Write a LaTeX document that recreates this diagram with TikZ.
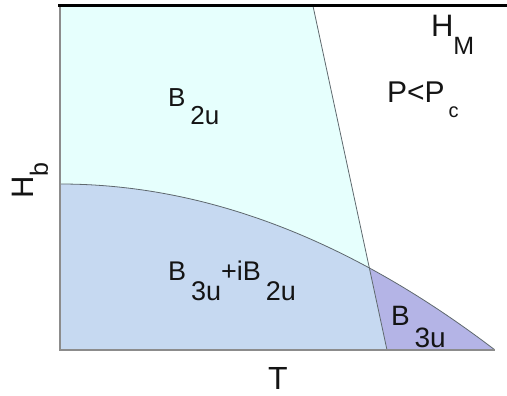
\documentclass[tikz,border=0pt]{standalone}
\usepackage{fontspec}
\setmainfont{Liberation Sans}
\newcommand{\fsz}[1]{\fontsize{#1}{#1}\selectfont}
\definecolor{phcyan}{RGB}{230,255,253}
\definecolor{phblue}{RGB}{198,217,241}
\definecolor{phpurple}{RGB}{180,180,230}
\definecolor{axisgray}{RGB}{140,140,140}
\definecolor{divgray}{RGB}{95,105,110}
\definecolor{txt}{RGB}{20,20,20}
\tikzset{
  lab/.style={inner sep=0pt, outer sep=0pt, anchor=base west, text=txt},
  divider/.style={draw=divgray, line width=0.8pt},
  axisline/.style={draw=axisgray, line width=1.5pt},
}
\begin{document}
\begin{tikzpicture}[x=1pt,y=-1pt]
\useasboundingbox (0,0) rectangle (507,396);
% regions
\fill[phcyan] (60,6) -- (313,6) -- (387,350) -- (60,350) -- cycle;
\fill[phpurple] plot[domain=0:1, samples=80] ({60+435*\x},{350-166*(1-\x*\x)}) -- (60,350) -- cycle;
\begin{scope}
  \clip (60,6) -- (313,6) -- (387,350) -- (60,350) -- cycle;
  \fill[phblue] plot[domain=0:1, samples=80] ({60+435*\x},{350-166*(1-\x*\x)}) -- (60,350) -- cycle;
\end{scope}
% boundaries
\coordinate (dtop) at (313,6);
\coordinate (dbot) at (387,350);
\draw[divider] (dtop) -- (dbot);
\draw[divider] plot[domain=0:1, samples=80] ({60+435*\x},{350-166*(1-\x*\x)});
% axes
\coordinate (origin) at (60,350);
\coordinate (ytop) at (60,6);
\coordinate (xend) at (495,350);
\draw[axisline] (ytop) -- (origin) -- (xend);
\coordinate (hl) at (58,5.5);
\coordinate (hr) at (507,5.5);
\draw[black, line width=3pt] (hl) -- (hr);
% labels
\node[lab] (b2u) at (168,107) {\fsz{26}B\kern5pt\raisebox{-18pt}{2u}};
\node[lab] (hm) at (431,37) {\fsz{31}H{\fsz{25}\raisebox{-18pt}{M}}};
\node[lab] (ppc) at (387,103) {\fsz{30}P<P\kern4pt{\fsz{20}\raisebox{-14pt}{c}}};
\node[lab] (mix) at (168,280) {\fsz{27}B\kern5pt\raisebox{-20pt}{3u}+iB\kern5pt\raisebox{-20pt}{2u}};
\node[lab] (b3u) at (391,325) {\fsz{28}B\kern5pt\raisebox{-22pt}{3u}};
\node[lab, anchor=base] (tlab) at (278,389) {\fsz{32}T};
\node[lab, rotate=90] (hb) at (33,199) {\fsz{31}H{\fsz{25}\raisebox{-15pt}{b}}};
\end{tikzpicture}
\end{document}
